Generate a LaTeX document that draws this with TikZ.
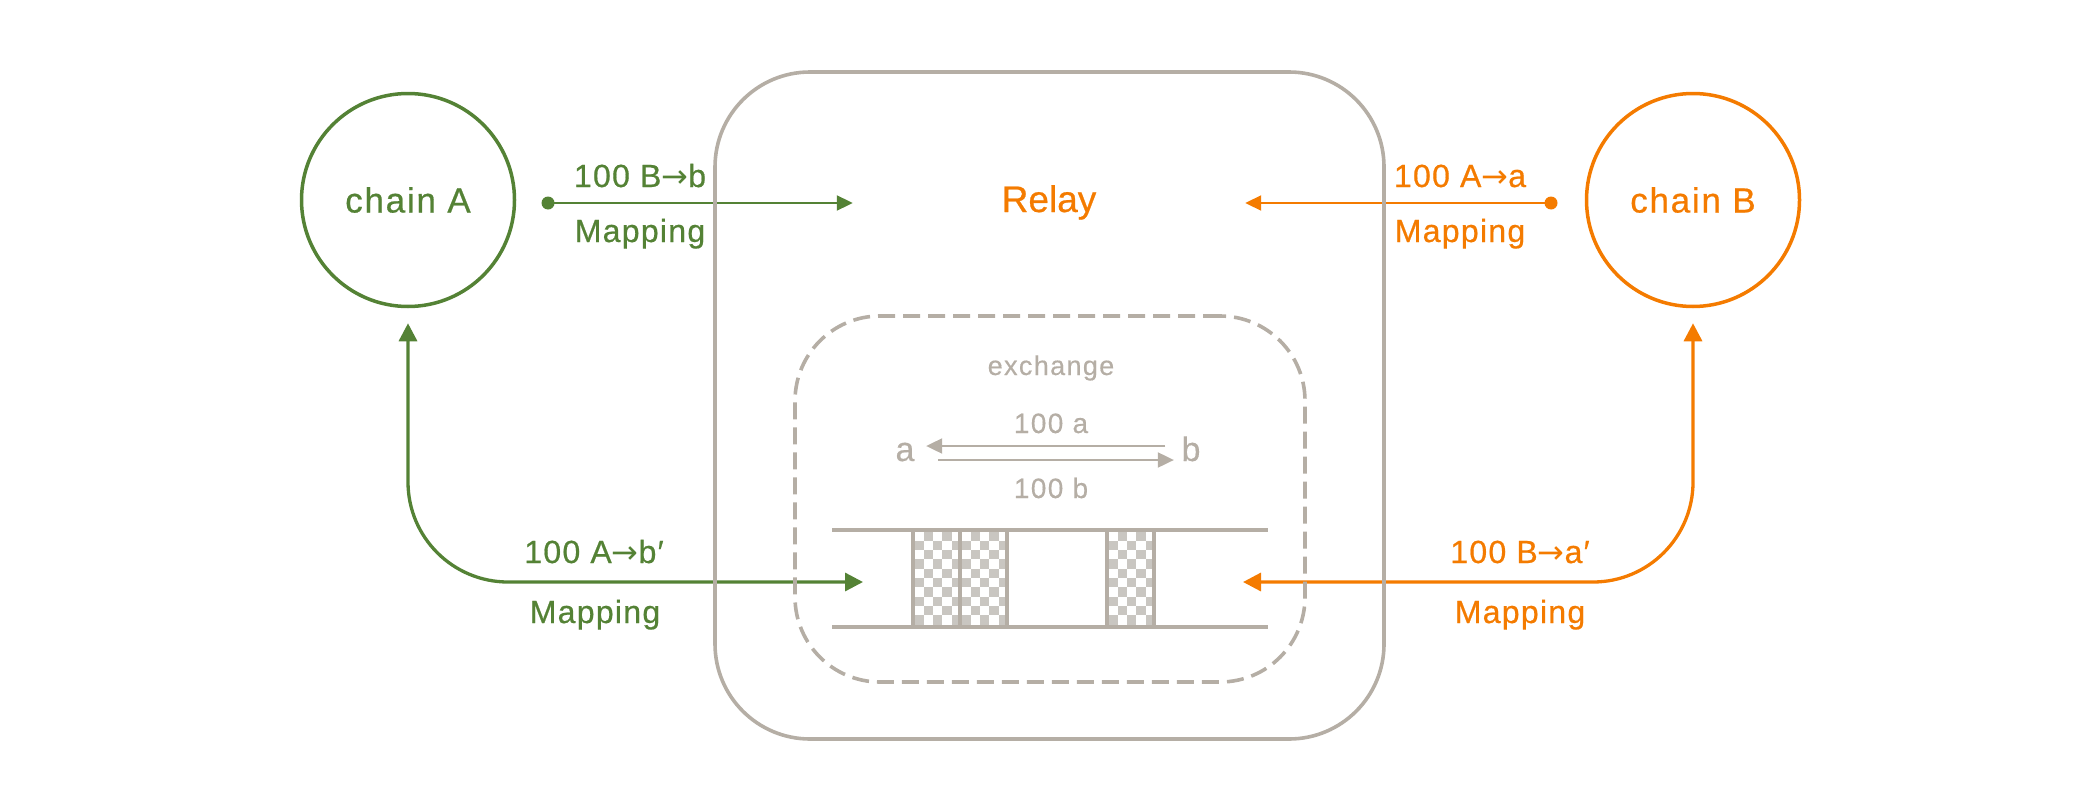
\documentclass[tikz,border=0pt]{standalone}
\usepackage{fontspec}
\setmainfont{Liberation Sans}
\newfontfamily\lblfont{Liberation Sans}[LetterSpace=4,FakeBold=0.6]
\newfontfamily\chainfont{Liberation Sans}[LetterSpace=5,FakeBold=0.6]
\newfontfamily\relayfont{Liberation Sans}[FakeBold=0.6]
\newfontfamily\grayfont{Liberation Sans}[LetterSpace=5,FakeBold=0.4]
\newfontfamily\arrfont{DejaVu Sans}
\usetikzlibrary{arrows.meta,calc}
\definecolor{cgreen}{HTML}{548235}
\definecolor{corange}{HTML}{F47B00}
\definecolor{cgray}{HTML}{B5AEA5}
\definecolor{cchk}{HTML}{C9C6C1}
\newcommand{\rarr}{{\arrfont →}}
\begin{document}
\begin{tikzpicture}[x=1pt,y=-1pt,
  chainnode/.style={circle, draw, line width=3.5pt, minimum size=213pt, inner sep=0pt,
    font=\chainfont\fontsize{35}{42}\selectfont},
  lbl/.style={font=\lblfont\fontsize{32}{38}\selectfont, inner sep=0pt, anchor=base},
  glbl/.style={font=\grayfont\fontsize{28}{34}\selectfont, inner sep=0pt, anchor=base, text=cgray},
  dotnode/.style={circle, inner sep=0pt, minimum size=13pt},
  thinarrow/.style={line width=2pt, -{Triangle[length=16pt,width=15pt]}},
  thickarrow/.style={line width=3.3pt, {Triangle[length=18pt,width=18pt]}-{Triangle[length=18pt,width=18pt]}, rounded corners=100pt},
  grayarrow/.style={line width=2pt, cgray, -{Triangle[length=16pt,width=15pt]}},
  boxline/.style={draw=cgray, line width=3.6pt, inner sep=0pt},
  track/.style={cgray, line width=3.6pt}
]
\useasboundingbox (0,0) rectangle (2100,811);

% main nodes
\node[chainnode, draw=cgreen, text=cgreen] (chainA) at (408,200) {chain A};
\node[chainnode, draw=corange, text=corange] (chainB) at (1693,200) {chain B};
\node[anchor=base, inner sep=0pt, minimum width=392pt, text=corange,
      font=\relayfont\fontsize{37}{44}\selectfont] (relay) at (1049,212) {Relay};

% top mapping arrows
\node[dotnode, fill=cgreen] (dA) at (548,203) {};
\node[dotnode, fill=corange] (dB) at (1551,203) {};
\draw[thinarrow, cgreen] (dA.center) -- (relay.west |- dA.center);
\draw[thinarrow, corange] (dB.center) -- (relay.east |- dB.center);
\node[lbl, text=cgreen] (tA1) at (640,187) {100 B\rarr b};
\node[lbl, text=cgreen] (tA2) at (640,242) {Mapping};
\node[lbl, text=corange] (tB1) at (1460,187) {100 A\rarr a};
\node[lbl, text=corange] (tB2) at (1460,242) {Mapping};

% bottom mapping arrows
\coordinate (gEnd) at (863,582);
\coordinate (oEnd) at (1243,582);
\draw[thickarrow, cgreen] ([yshift=-15pt]chainA.south) |- (gEnd);
\draw[thickarrow, corange] ([yshift=-15pt]chainB.south) |- (oEnd);
\node[lbl, text=cgreen] (bA1) at (594,563) {100 A\rarr b′};
\node[lbl, text=cgreen] (bA2) at (595,623) {Mapping};
\node[lbl, text=corange] (bB1) at (1520,563) {100 B\rarr a′};
\node[lbl, text=corange] (bB2) at (1520,623) {Mapping};

% boxes
\node[boxline, rounded corners=95pt, minimum width=669pt, minimum height=667pt] (relaybox) at (1049.5,405.5) {};
\node[boxline, dash pattern=on 17pt off 8pt, rounded corners=85pt, minimum width=510pt, minimum height=366pt] (exbox) at (1050,499) {};

% exchange content
\node[glbl, font=\grayfont\fontsize{27}{32}\selectfont] (ex) at (1051,375) {exchange};
\node[glbl] (qa) at (1051,433) {100 a};
\node[glbl] (qb) at (1051,498) {100 b};
\node[glbl, font=\grayfont\fontsize{34}{40}\selectfont] (la) at (905,461) {a};
\node[glbl, font=\grayfont\fontsize{34}{40}\selectfont] (lb) at (1191,461) {b};
\draw[grayarrow] ($(lb.base west)+(-16,-15)$) -- ($(la.base east)+(11.5,-15)$);
\draw[grayarrow] ($(la.base east)+(23.5,-1)$) -- ($(lb.base west)+(-7.5,-1)$);

% checkered blocks
\foreach \bx in {913,960,1107}{
  \begin{scope}
    \clip (\bx,530) rectangle ({\bx+47},627);
    \foreach \i in {0,...,5}{
      \foreach \j in {0,...,11}{
        \pgfmathtruncatemacro{\chkp}{mod(\i+\j,2)}
        \ifnum\chkp=1
          \fill[cchk] ({\bx+1.5+\i*9.3},{531.5+\j*9.3}) rectangle ++(9.3,9.3);
        \fi
      }
    }
  \end{scope}
  \draw[cgray, line width=3.2pt] (\bx,530) rectangle ({\bx+47},627);
}
\draw[track] (832,530) -- (1268,530);
\draw[track] (832,627) -- (1268,627);
\end{tikzpicture}
\end{document}
